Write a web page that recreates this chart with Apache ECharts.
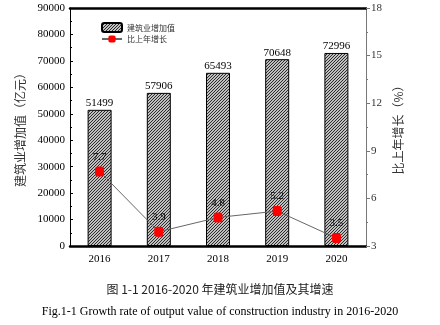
<!DOCTYPE html>
<html><head><meta charset="utf-8">
<script src="https://cdn.jsdelivr.net/npm/echarts@6/dist/echarts.min.js"></script>
<style>html,body{margin:0;padding:0;background:#fff}#c{width:440px;height:325px}</style>
</head><body><div id="c"></div>
<script>
var categories = ['2016','2017','2018','2019','2020'];
var addedValue = [51499, 57906, 65493, 70648, 72996];
var growthRate = [7.7, 3.9, 4.8, 5.2, 3.5];
var leftTicks = [0, 90000, 10000];
var rightTicks = [3, 18, 3];

var pc = document.createElement('canvas');
pc.width = 3; pc.height = 3;
var g = pc.getContext('2d');
g.fillStyle = '#fff'; g.fillRect(0,0,3,3);
g.strokeStyle = '#222'; g.lineWidth = 1.1;
g.beginPath();
g.moveTo(-1,4); g.lineTo(4,-1);
g.moveTo(-1,1); g.lineTo(1,-1);
g.moveTo(2,4); g.lineTo(4,2);
g.stroke();

var serif = 'Liberation Serif';
var chart = echarts.init(document.getElementById('c'));
chart.setOption({
  animation: false,
  grid: {left: 70, right: 74, top: 8, bottom: 79},
  legend: {
    left: 96, top: 17, orient: 'vertical', itemGap: 2, itemWidth: 20, itemHeight: 9,
    textStyle: {fontFamily: 'Noto Sans CJK SC', fontSize: 8, color: '#333'},
    data: [{name: '建筑业增加值'}, {name: '比上年增长'}]
  },
  xAxis: [{
    type: 'category', data: categories, position: 'bottom',
    axisLine: {lineStyle: {color: '#000', width: 2.5}},
    axisTick: {alignWithLabel: true, length: 4, lineStyle: {color: '#000'}},
    axisLabel: {fontFamily: serif, fontSize: 11, color: '#000', margin: 8}
  }, {
    type: 'category', data: categories, position: 'top',
    axisLine: {lineStyle: {color: '#000', width: 2.5}},
    axisTick: {show: false}, axisLabel: {show: false}
  }],
  yAxis: [{
    type: 'value', min: leftTicks[0], max: leftTicks[1], interval: leftTicks[2],
    name: '建筑业增加值（亿元）', nameLocation: 'middle', nameGap: 43,
    nameTextStyle: {fontFamily: 'Noto Sans CJK SC', fontSize: 12, color: '#333'},
    axisLine: {show: true, lineStyle: {color: '#000', width: 1}},
    axisTick: {show: true, inside: true, length: 3, lineStyle: {color: '#000'}},
    minorTick: {show: true, splitNumber: 2, length: 2, lineStyle: {color: '#000'}},
    splitLine: {show: false},
    axisLabel: {fontFamily: serif, fontSize: 11, color: '#000', margin: 5, formatter: function (v) { return String(v); }}
  }, {
    type: 'value', min: rightTicks[0], max: rightTicks[1], interval: rightTicks[2],
    position: 'right',
    name: '比上年增长（%）', nameLocation: 'middle', nameGap: 20,
    nameTextStyle: {fontFamily: 'Noto Sans CJK SC', fontSize: 12, color: '#333'},
    axisLine: {show: true, lineStyle: {color: '#777', width: 1}},
    axisTick: {show: true, length: 4, lineStyle: {color: '#777'}},
    minorTick: {show: true, splitNumber: 2, length: 2, lineStyle: {color: '#777'}},
    splitLine: {show: false},
    axisLabel: {fontFamily: serif, fontSize: 11, color: '#333', margin: 5}
  }],
  series: [{
    name: '建筑业增加值', type: 'bar', data: addedValue, barWidth: 24,
    itemStyle: {color: {image: pc, repeat: 'repeat'}, borderColor: '#000', borderWidth: 1},
    label: {show: true, position: 'top', distance: 1, fontFamily: serif, fontSize: 11, color: '#000'}
  }, {
    name: '比上年增长', type: 'line', yAxisIndex: 1, data: growthRate,
    symbol: 'roundRect', symbolSize: [8, 9],
    lineStyle: {color: '#666', width: 1},
    itemStyle: {color: '#f00', borderColor: '#f00'},
    label: {show: true, position: 'top', distance: 4, fontFamily: serif, fontSize: 11, color: '#000'}
  }],
  graphic: [{
    type: 'text', left: 'center', top: 283,
    style: {text: '图 1-1 2016-2020 年建筑业增加值及其增速', font: '12px "Noto Sans CJK SC"', fill: '#222'}
  }, {
    type: 'text', left: 'center', top: 306,
    style: {text: 'Fig.1-1 Growth rate of output value of construction industry in 2016-2020', font: '12px "Liberation Serif"', fill: '#000'}
  }]
});
</script></body></html>
